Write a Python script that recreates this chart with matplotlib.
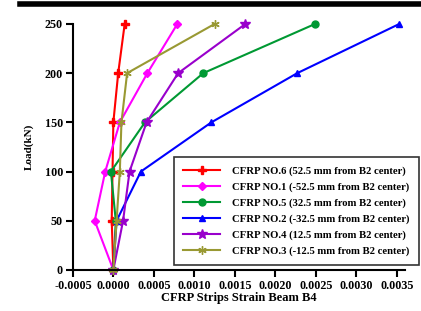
import numpy as np
import matplotlib.pyplot as plt
from matplotlib.lines import Line2D

plt.rcParams['font.family'] = ['Liberation Serif', 'DejaVu Serif']
plt.rcParams['font.weight'] = 'bold'

# load steps (kN)
load = [0, 50, 100, 150, 200, 250]

# strain readings for each CFRP strip
no6 = [0.0, -0.00002, -0.00001, 0.0, 0.00006, 0.00014]
no1 = [0.0, -0.00023, -0.0001, 0.00008, 0.00042, 0.00079]
no5 = [0.0, 0.00003, -0.00003, 0.00039, 0.00111, 0.00249]
no2 = [0.0, 0.00004, 0.00034, 0.00121, 0.00227, 0.00353]
no4 = [0.0, 0.00012, 0.0002, 0.00041, 0.0008, 0.00163]
no3 = [0.0, 0.00004, 0.00008, 0.0001, 0.00017, 0.00125]

labels = ['CFRP NO.6 (52.5 mm from B2 center)',
          'CFRP NO.1 (-52.5 mm from B2 center)',
          'CFRP NO.5 (32.5 mm from B2 center)',
          'CFRP NO.2 (-32.5 mm from B2 center)',
          'CFRP NO.4 (12.5 mm from B2 center)',
          'CFRP NO.3 (-12.5 mm from B2 center)']
colors = ['#ff0000', '#ff00ff', '#009933', '#0000ff', '#9900cc', '#999933']
markers = ['P', 'D', 'o', '^', '*', (6, 2, 0)]
sizes = [6, 4.5, 5, 5, 7, 6]

fig = plt.figure(figsize=(4.21, 3.11), dpi=100)
ax = fig.add_axes([0.173, 0.132, 0.789, 0.791])

series = [no6, no1, no5, no2, no4, no3]
for s, lab, c, m, ms in zip(series, labels, colors, markers, sizes):
    ax.plot(s, load, color=c, marker=m, markersize=ms, lw=1.5, label=lab,
            clip_on=False, markeredgewidth=1.0)

ax.set_xlim(-0.0005, 0.0036)
ax.set_ylim(0, 250)
ax.set_xticks(np.arange(-0.0005, 0.0036, 0.0005))
ax.set_xticklabels(['%.4f' % v for v in np.arange(-0.0005, 0.0036, 0.0005)])
ax.set_yticks([0, 50, 100, 150, 200, 250])
ax.spines['top'].set_visible(False)
ax.spines['right'].set_visible(False)
ax.spines['left'].set_linewidth(1.5)
ax.spines['bottom'].set_linewidth(1.5)
ax.tick_params(direction='out', length=5, width=1.5, labelsize=8.7, pad=2)
for t in ax.get_xticklabels() + ax.get_yticklabels():
    t.set_fontweight('bold')

ax.set_xlabel('CFRP Strips Strain Beam B4', fontsize=9, fontweight='bold', labelpad=0)
ax.set_ylabel('Load(kN)', fontsize=8, fontweight='bold', labelpad=8)

leg = fig.legend(loc='upper left', bbox_to_anchor=(0.413, 0.495), fontsize=7.7,
                 frameon=True, fancybox=False, edgecolor='black', handlelength=3.5,
                 labelspacing=0.58, borderpad=0.85, handletextpad=1.1,
                 borderaxespad=0)
leg.get_frame().set_linewidth(1.2)

# thick black bar across the top
fig.add_artist(Line2D([0.048, 1.0], [0.987, 0.987], color='black', lw=4,
                      transform=fig.transFigure))

fig.savefig('out.png', dpi=100)
